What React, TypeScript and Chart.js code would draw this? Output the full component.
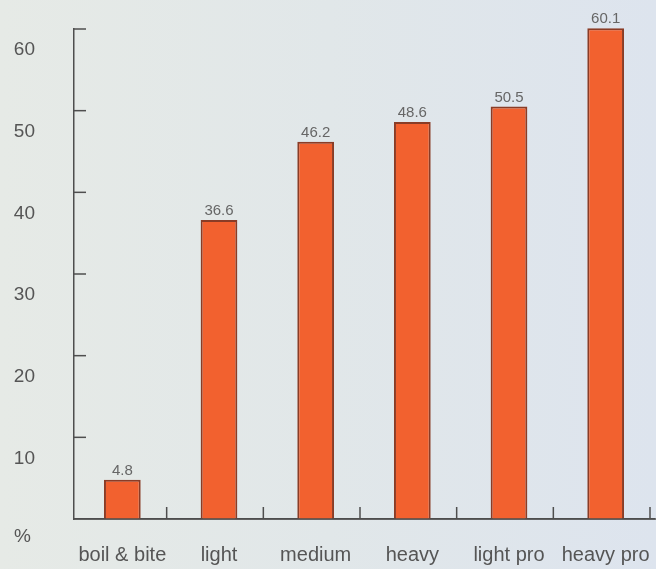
import React, { useEffect, useRef } from "react";
import { Chart, registerables } from "chart.js";

Chart.register(...registerables);

const categories = ["boil & bite", "light", "medium", "heavy", "light pro", "heavy pro"];
const values = [4.8, 36.6, 46.2, 48.6, 50.5, 60.1];
const valueLabels = ["4.8", "36.6", "46.2", "48.6", "50.5", "60.1"];
const yTickValues = [0, 10, 20, 30, 40, 50, 60];
const unitLabel = "%";

const FONT = "'Liberation Sans', Arial, sans-serif";
const AXIS_COLOR = "#4e4e4e";
const TEXT_COLOR = "#555555";

const decorPlugin = {
  id: "decor",
  afterDatasetsDraw(chart: any) {
    const ctx = chart.ctx;
    const x = chart.scales.x;
    const y = chart.scales.y;
    const area = chart.chartArea;
    ctx.save();
    ctx.strokeStyle = AXIS_COLOR;
    ctx.lineWidth = 1.5;
    yTickValues.forEach((v) => {
      if (v === 0) return;
      const py = y.getPixelForValue(v);
      ctx.beginPath();
      ctx.moveTo(area.left, py);
      ctx.lineTo(area.left + 12, py);
      ctx.stroke();
    });
    const n = categories.length;
    const step = (area.right - area.left) / n;
    for (let i = 0; i < n; i++) {
      const px = x.getPixelForValue(i) + step / 2 - 4;
      ctx.beginPath();
      ctx.moveTo(px, area.bottom);
      ctx.lineTo(px, area.bottom - 12);
      ctx.stroke();
    }
    ctx.beginPath();
    ctx.moveTo(area.left, area.bottom);
    ctx.lineTo(chart.width, area.bottom);
    ctx.stroke();
    ctx.fillStyle = "#666666";
    ctx.font = `15px ${FONT}`;
    ctx.textAlign = "center";
    ctx.textBaseline = "middle";
    const meta = chart.getDatasetMeta(0);
    meta.data.forEach((bar: any, i: number) => {
      ctx.fillText(valueLabels[i], bar.x, bar.y - 9);
    });
    ctx.fillStyle = TEXT_COLOR;
    ctx.font = `19px ${FONT}`;
    ctx.textAlign = "left";
    ctx.fillText(unitLabel, 14, 537);
    ctx.restore();
  },
};

export default function App() {
  const ref = useRef<HTMLCanvasElement>(null);
  useEffect(() => {
    if (!ref.current) return;
    const chart = new Chart(ref.current, {
      type: "bar",
      data: {
        labels: categories,
        datasets: [
          {
            data: values,
            backgroundColor: "#f2612f",
            borderColor: "#8a3c26",
            borderWidth: 2,
            barPercentage: 0.76,
            categoryPercentage: 0.5,
            clip: false as any,
          },
        ],
      },
      options: {
        animation: false,
        responsive: false,
        maintainAspectRatio: false,
        layout: { padding: { top: 29, right: 2, left: 0, bottom: 0 } },
        plugins: { legend: { display: false }, tooltip: { enabled: false }, title: { display: false } },
        scales: {
          x: {
            grid: { display: false },
            border: { display: true, color: AXIS_COLOR, width: 1.5 },
            ticks: {
              color: TEXT_COLOR,
              font: { family: FONT, size: 20 },
              padding: 16,
              maxRotation: 0,
              autoSkip: false,
            },
            afterFit: (s: any) => {
              s.height = 50;
              s.paddingLeft = 0;
              s.paddingRight = 0;
            },
          },
          y: {
            min: 0,
            max: 60,
            grid: { display: false },
            border: { display: true, color: AXIS_COLOR, width: 1.5 },
            ticks: {
              stepSize: 10,
              color: TEXT_COLOR,
              font: { family: FONT, size: 19 },
              padding: 31,
              labelOffset: 21,
              callback: (v: any) => (v === 0 ? "" : String(v)),
            },
            afterFit: (s: any) => {
              s.width = 74;
              s.paddingTop = 0;
              s.paddingBottom = 0;
            },
          },
        },
      },
      plugins: [decorPlugin],
    });
    return () => chart.destroy();
  }, []);
  return (
    <div
      style={{
        position: "fixed",
        left: 0,
        top: 0,
        width: 656,
        height: 569,
        background: "linear-gradient(90deg, #e6eae6 0%, #e1e7e9 50%, #dde4ee 100%)",
      }}
    >
      <canvas ref={ref} width={656} height={569} style={{ width: 656, height: 569, display: "block" }} />
    </div>
  );
}
